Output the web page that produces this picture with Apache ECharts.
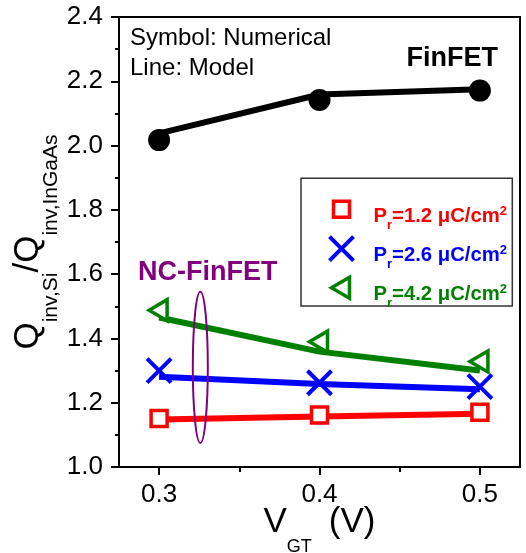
<!DOCTYPE html>
<html><head><meta charset="utf-8">
<script src="https://cdn.jsdelivr.net/npm/echarts@6/dist/echarts.min.js"></script>
<style>html,body{margin:0;padding:0;background:#fff}#c{width:526px;height:553px}</style>
</head><body><div id="c"></div>
<script>
// ---- data ----
const vgt = [0.3, 0.4, 0.5];
const finfetSim = [2.017, 2.142, 2.171];
const finfetModel = [2.038, 2.159, 2.175];
const pr12Sim = [1.151, 1.162, 1.170];
const pr12Model = [1.148, 1.157, 1.166];
const pr26Sim = [1.300, 1.262, 1.250];
const pr26Model = [1.281, 1.258, 1.242];
const pr42Sim = [1.488, 1.390, 1.328];
const pr42Model = [1.465, 1.359, 1.300];
const xMajorTicks = [0.3, 0.4, 0.5];
const xMinorTicks = [0.35, 0.45];
const legendNames = ['pr12', 'pr26', 'pr42'];
const legendValues = ['1.2', '2.6', '4.2'];
const ellipseAnchor = { x: 0.3257, yTop: 1.545, yBottom: 1.075 };

// ---- styling ----
const FONT = '"Liberation Sans", Arial, Helvetica, sans-serif';
const RED = '#ff0000', BLUE = '#0000ff', GREEN = '#008000', PURPLE = '#800080';
const colors = [RED, BLUE, GREEN];
const SQUARE = 'path://M0,0M28,28M6,6L22,6L22,22L6,22Z';
const CROSS = 'path://M0,0M28,28M2,2L26,26M26,2L2,26';
const TRIANGLE = 'path://M0,0M28,28M4,14L22,3.5L22,24.5Z';

const pairs = arr => vgt.map((x, i) => [x, arr[i]]);

const legendRich = { sp: { width: 13, fontSize: 12 } };
colors.forEach((c, i) => {
  legendRich['m' + i] = { color: c, fontSize: 20.3, fontWeight: 'bold', fontFamily: FONT, lineHeight: 24, verticalAlign: 'top', padding: [9, 0, 0, 0] };
  legendRich['r' + i] = { color: c, fontSize: 13, fontWeight: 'bold', fontFamily: FONT, lineHeight: 14, verticalAlign: 'top', padding: [21.5, 0, 0, 0] };
  legendRich['t' + i] = { color: c, fontSize: 13, fontWeight: 'bold', fontFamily: FONT, lineHeight: 14, verticalAlign: 'top', padding: [7.5, 0, 0, 0] };
});

function lineSeries(name, data, color) {
  return { name, type: 'line', data: pairs(data), showSymbol: false, symbol: 'none',
    lineStyle: { color, width: 6, opacity: 1 }, itemStyle: { color }, z: 2, silent: true };
}
function markerSeries(name, data, symbol, size, itemStyle) {
  return { name, type: 'scatter', data: pairs(data), symbol, symbolSize: size,
    itemStyle: Object.assign({ opacity: 1 }, itemStyle), z: 3, silent: true };
}

const chart = echarts.init(document.getElementById('c'));
const option = {
  animation: false,
  backgroundColor: '#fff',
  grid: [
    { left: 119, right: 6, top: 17, bottom: 86, outerBoundsMode: 'none', containLabel: false, show: true, borderColor: '#000', borderWidth: 2, backgroundColor: 'transparent' },
    { left: 119, right: 6, top: 17, bottom: 86, outerBoundsMode: 'none', containLabel: false, show: false }
  ],
  xAxis: [
    { type: 'value', gridIndex: 0, min: 0.275, max: 0.525,
      axisLine: { show: true, onZero: false, lineStyle: { color: '#000', width: 2 } },
      axisTick: { show: true, length: 8, customValues: xMajorTicks, lineStyle: { color: '#000', width: 2 } },
      axisLabel: { customValues: xMajorTicks, formatter: v => v.toFixed(1), fontSize: 26, fontFamily: FONT, color: '#000', margin: 14.6 },
      splitLine: { show: false },
      name: '{m|V}{s|GT}{g| }{m|(V)}', nameLocation: 'middle', nameGap: 37.7, nameMoveOverlap: false,
      nameTextStyle: { rich: {
        m: { fontSize: 35, fontFamily: FONT, color: '#000', lineHeight: 36, verticalAlign: 'top' },
        s: { fontSize: 18, fontFamily: FONT, color: '#000', lineHeight: 18, verticalAlign: 'top', padding: [33.4, 0, 0, 0] },
        g: { width: 17, fontSize: 18, fontFamily: FONT }
      } }
    },
    { type: 'value', gridIndex: 1, min: 0.275, max: 0.525,
      axisLine: { show: false, onZero: false },
      axisTick: { show: true, length: 5, customValues: xMinorTicks, lineStyle: { color: '#000', width: 2 } },
      axisLabel: { show: false }, splitLine: { show: false } }
  ],
  yAxis: [
    { type: 'value', gridIndex: 0, min: 1.0, max: 2.4, interval: 0.2,
      axisLine: { show: true, onZero: false, lineStyle: { color: '#000', width: 2 } },
      axisTick: { show: true, length: 8, lineStyle: { color: '#000', width: 2 } },
      minorTick: { show: true, splitNumber: 2, length: 4, lineStyle: { color: '#000', width: 2 } },
      axisLabel: { formatter: v => v.toFixed(1), fontSize: 26, fontFamily: FONT, color: '#000', margin: 16 },
      splitLine: { show: false },
      name: '{m|Q}{s|inv,Si}{m|/Q}{s|inv,InGaAs}', nameLocation: 'middle', nameRotate: 90, nameGap: 72.5, nameMoveOverlap: false,
      nameTextStyle: { rich: {
        m: { fontSize: 35, fontFamily: FONT, color: '#000', lineHeight: 36, verticalAlign: 'top' },
        s: { fontSize: 21, fontFamily: FONT, color: '#000', lineHeight: 22, verticalAlign: 'top', padding: [29.75, 0, 0, 0] }
      } }
    },
    { type: 'value', gridIndex: 1, min: 1.0, max: 2.4, show: false }
  ],
  legend: {
    data: legendNames, orient: 'vertical', left: 301, top: 178.3,
    padding: [15.2, 5.3, -4.2, 24.5], itemGap: 0.9, itemWidth: 28, itemHeight: 28,
    backgroundColor: '#fff', borderColor: '#333', borderWidth: 1.5, borderRadius: 0,
    itemStyle: { borderWidth: 'inherit' },
    selectedMode: false,
    formatter: name => {
      const i = legendNames.indexOf(name);
      return '{sp| }{m' + i + '|P}{r' + i + '|r}{m' + i + '|=' + legendValues[i] + ' μC/cm}{t' + i + '|2}';
    },
    textStyle: { rich: legendRich }
  },
  series: [
    lineSeries('finfetModel', finfetModel, '#000'),
    lineSeries('pr12Model', pr12Model, RED),
    lineSeries('pr26Model', pr26Model, BLUE),
    lineSeries('pr42Model', pr42Model, GREEN),
    markerSeries('FinFET', finfetSim, 'circle', 22, { color: '#000' }),
    markerSeries('pr12', pr12Sim, SQUARE, 28, { color: '#fff', borderColor: RED, borderWidth: 3.5 }),
    markerSeries('pr26', pr26Sim, CROSS, 28, { color: BLUE, borderColor: BLUE, borderWidth: 4 }),
    markerSeries('pr42', pr42Sim, TRIANGLE, 28, { color: '#fff', borderColor: GREEN, borderWidth: 3.5 })
  ]
};
chart.setOption(option);

const pTop = chart.convertToPixel({ xAxisIndex: 0, yAxisIndex: 0 }, [ellipseAnchor.x, ellipseAnchor.yTop]);
const pBot = chart.convertToPixel({ xAxisIndex: 0, yAxisIndex: 0 }, [ellipseAnchor.x, ellipseAnchor.yBottom]);
chart.setOption({
  graphic: [
    { type: 'text', z: 10, style: { text: 'Symbol: Numerical', x: 130, y: 38.7, verticalAlign: 'middle', align: 'left', fontSize: 24, fontFamily: FONT, fill: '#000' } },
    { type: 'text', z: 10, style: { text: 'Line: Model', x: 130, y: 68.7, verticalAlign: 'middle', align: 'left', fontSize: 24, fontFamily: FONT, fill: '#000' } },
    { type: 'text', z: 10, style: { text: 'FinFET', x: 498, y: 59, verticalAlign: 'middle', align: 'right', fontSize: 27, fontWeight: 'bold', fontFamily: FONT, fill: '#000' } },
    { type: 'text', z: 10, style: { text: 'NC-FinFET', x: 138, y: 272.5, verticalAlign: 'middle', align: 'left', fontSize: 27, fontWeight: 'bold', fontFamily: FONT, fill: PURPLE } },
    { type: 'ellipse', z: 10, shape: { cx: pTop[0], cy: (pTop[1] + pBot[1]) / 2, rx: 7.5, ry: (pBot[1] - pTop[1]) / 2 },
      style: { fill: 'none', stroke: PURPLE, lineWidth: 2 } }
  ]
});
</script>
</body></html>
